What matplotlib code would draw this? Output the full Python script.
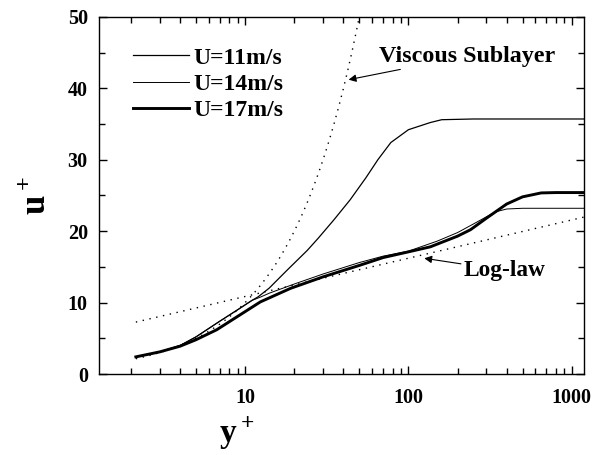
import numpy as np
import matplotlib
matplotlib.use('Agg')
import matplotlib.pyplot as plt
from matplotlib.ticker import LogLocator, MultipleLocator, NullFormatter, FixedLocator, FixedFormatter

plt.rcParams['font.family'] = 'Liberation Serif'
plt.rcParams['font.weight'] = 'bold'
plt.rcParams['mathtext.fontset'] = 'custom'
plt.rcParams['mathtext.rm'] = 'Liberation Serif'
plt.rcParams['mathtext.bf'] = 'Liberation Serif:bold'

y11 = [2.14, 3, 4, 5, 7, 9, 11, 12, 14, 18, 24, 28, 35, 44, 55, 65, 78, 100, 136, 160, 250, 1185]
u11 = [2.4, 3.1, 4.0, 5.2, 7.4, 9.0, 10.3, 10.8, 12.0, 14.5, 17.3, 19.0, 21.6, 24.4, 27.5, 30.0, 32.4, 34.2, 35.2, 35.6, 35.7, 35.7]

y14 = [2.14, 3, 4, 5, 7, 9, 11, 12.5, 14, 20, 30, 50, 70, 100, 150, 200, 250, 300, 342, 400, 500, 1185]
u14 = [2.4, 3.1, 4.0, 5.2, 7.4, 9.0, 10.3, 10.8, 11.3, 12.6, 14.0, 15.6, 16.5, 17.2, 18.6, 19.8, 21.0, 22.0, 22.7, 23.1, 23.2, 23.2]

y17 = [2.14, 3, 4, 5, 6.7, 8.9, 12.4, 19, 30, 50, 70, 100, 136, 200, 240, 300, 400, 500, 650, 800, 1185]
u17 = [2.4, 3.1, 3.9, 4.8, 6.2, 8.0, 10.1, 12.0, 13.6, 15.2, 16.3, 17.1, 17.8, 19.3, 20.2, 21.8, 23.8, 24.8, 25.35, 25.4, 25.4]

# wall laws
kappa = 0.43
B = 5.5
yp = np.logspace(np.log10(2.14), np.log10(1185), 200)
u_visc = yp
u_log = np.log(yp) / kappa + B

fig = plt.figure(figsize=(5.92, 4.55), dpi=100)
ax = fig.add_axes([0.167, 0.178, 0.819, 0.785])

ax.plot(y11, u11, color='black', lw=0.9, label='U=11m/s')
ax.plot(y14, u14, color='black', lw=0.7, label='U=14m/s')
ax.plot(y17, u17, color='black', lw=2.1, label='U=17m/s')
ax.plot(yp, u_visc, color='black', lw=1.0, ls=(0, (1, 4)))
ax.plot(yp, u_log, color='black', lw=1.0, ls=(0, (1, 4)))

ax.set_xscale('log')
ax.set_xlim(1.27, 1185)
ax.set_ylim(0, 50)
ax.xaxis.set_major_locator(FixedLocator([10, 100, 1000]))
ax.xaxis.set_major_formatter(FixedFormatter(['10', '100', '1000']))
ax.xaxis.set_minor_locator(LogLocator(base=10, subs=np.arange(2, 10)))
ax.xaxis.set_minor_formatter(NullFormatter())
ax.yaxis.set_major_locator(MultipleLocator(10))
ax.yaxis.set_minor_locator(MultipleLocator(5))
ax.tick_params(which='both', direction='in', top=True, right=True, labelsize=14.5, width=1)
ax.tick_params(which='major', length=6, pad=10)
ax.tick_params(which='minor', length=4)
ax.tick_params(axis='y', which='major', pad=8)
for lab in ax.get_xticklabels() + ax.get_yticklabels():
    lab.set_fontweight('bold')
for s in ax.spines.values():
    s.set_linewidth(1.0)

ax.set_xlabel(r'$\mathbf{y}^{\rm +}$', fontsize=24, va='bottom')
ax.xaxis.set_label_coords(0.285, -0.218)
ax.set_ylabel(r'$\mathbf{u}^{\rm +}$', fontsize=25, labelpad=10)

leg = ax.legend(loc='upper left', bbox_to_anchor=(0.026, 0.975), frameon=False,
                handlelength=2.4, handletextpad=0.15, labelspacing=0.2,
                prop={'family': 'Liberation Serif', 'weight': 'bold', 'size': 17})

ax.annotate('Viscous Sublayer', xy=(43, 41.2), xytext=(66, 44.5),
            fontsize=17.3, fontweight='bold', va='center',
            arrowprops=dict(arrowstyle='-|>', color='black', lw=0.8, shrinkA=0, shrinkB=0,
                            mutation_scale=11))
ax.annotate('Log-law', xy=(125, 16.2), xytext=(218, 14.5),
            fontsize=16.8, fontweight='bold', va='center',
            arrowprops=dict(arrowstyle='-|>', color='black', lw=0.8, shrinkA=0, shrinkB=0,
                            mutation_scale=11))

fig.savefig('out.png', dpi=100)
